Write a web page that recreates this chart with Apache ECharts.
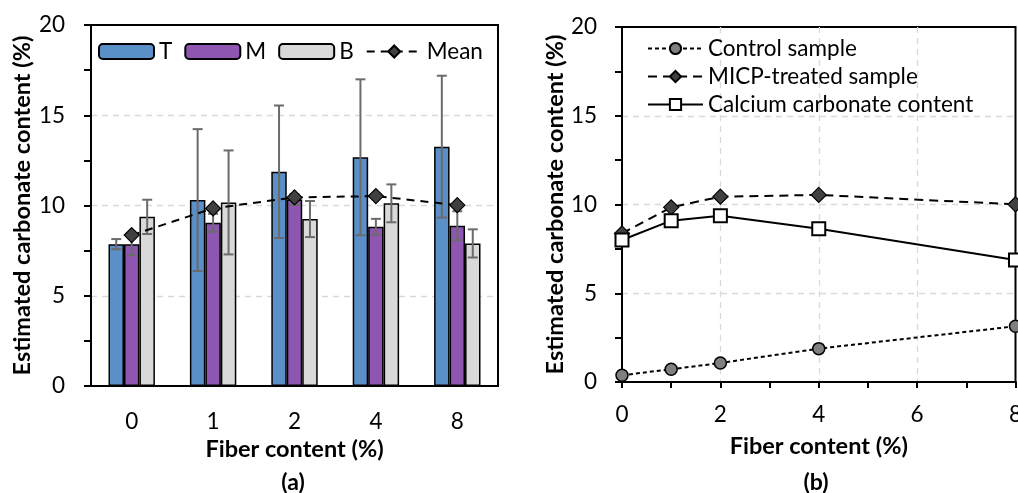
<!DOCTYPE html>
<html>
<head>
<meta charset="utf-8">
<script src="https://cdn.jsdelivr.net/npm/echarts@6/dist/echarts.min.js"></script>
<style>
  html, body { margin: 0; padding: 0; background: #fff; }
  #main { width: 1018px; height: 493px; }
</style>
</head>
<body>
<div id="main"></div>
<script>
// panel (a): carbonate content of top / middle / bottom layers
const fiberCats = ["0", "1", "2", "4", "8"];
const tVals = [7.86, 10.3, 11.87, 12.67, 13.26];
const tErr = [0.28, 3.93, 3.67, 4.32, 3.93];
const mVals = [7.86, 9.04, 10.33, 8.82, 8.88];
const mErr = [0.62, 0.5, 0.3, 0.44, 0.8];
const bVals = [9.37, 10.17, 9.25, 10.12, 7.9];
const bErr = [0.95, 2.88, 1.0, 1.05, 0.78];
const meanVals = [8.36, 9.84, 10.45, 10.52, 10.02];

// panel (b)
const fiberX = [0, 1, 2, 4, 8];
const controlVals = [0.38, 0.72, 1.07, 1.88, 3.14];
const micpVals = [8.37, 9.84, 10.44, 10.54, 10.01];
const caco3Vals = [8.0, 9.09, 9.37, 8.63, 6.87];

const FONT = "Lato";
const BAR_W = 0.19; // share of category band per bar

function pairs(xs, ys) {
  return xs.map((x, i) => [x, ys[i]]);
}

// error bars drawn with custom series, shifted like the bars
function errSeries(vals, errs, slot) {
  return {
    type: "custom",
    xAxisIndex: 0,
    yAxisIndex: 0,
    z: 4,
    silent: true,
    data: vals.map((v, i) => [i, v, errs[i]]),
    encode: { x: 0, y: 1 },
    renderItem: function (params, api) {
      const i = api.value(0);
      const v = api.value(1);
      const e = api.value(2);
      const band = api.size([1, 0])[0];
      const off = slot * band * BAR_W;
      const hi = api.coord([i, v + e]);
      const lo = api.coord([i, v - e]);
      const x = hi[0] + off;
      const cap = 5;
      const st = { stroke: "#6b6b6b", lineWidth: 2 };
      return {
        type: "group",
        children: [
          { type: "line", shape: { x1: x, y1: hi[1], x2: x, y2: lo[1] }, style: st },
          { type: "line", shape: { x1: x - cap, y1: hi[1], x2: x + cap, y2: hi[1] }, style: st },
          { type: "line", shape: { x1: x - cap, y1: lo[1], x2: x + cap, y2: lo[1] }, style: st },
        ],
      };
    },
  };
}

const chart = echarts.init(document.getElementById("main"));

const axisText = { fontFamily: FONT, fontSize: 22.5, color: "#000" };
const nameText = {
  fontFamily: FONT, fontSize: 23.5, fontWeight: "bold", color: "#000",
  width: 500, overflow: "none",
};
const dashGrid = {
  show: true, showMinLine: false, showMaxLine: false,
  lineStyle: { color: "#d9d9d9", type: [6, 5], width: 1.3 },
};
const blackLine = { show: true, lineStyle: { color: "#000", width: 2 } };
const tickStyle = { color: "#000", width: 2 };

// axis that only carries the extra (half-step) outward ticks
function tickAxis(kind, grid, max, step, len) {
  return {
    type: "value",
    gridIndex: grid,
    min: 0,
    max: max,
    interval: step,
    axisLine: blackLine,
    axisTick: { show: true, length: len, lineStyle: tickStyle },
    axisLabel: { show: false },
    splitLine: { show: false },
    position: kind === "x" ? "bottom" : "left",
  };
}

chart.setOption({
  animation: false,
  graphic: [
    { type: "text", x: 293, y: 483,
      style: { text: "(a)", align: "center", verticalAlign: "middle",
        font: "bold 23px Lato", fill: "#000" } },
    { type: "text", x: 816, y: 483,
      style: { text: "(b)", align: "center", verticalAlign: "middle",
        font: "bold 23px Lato", fill: "#000" } },
  ],
  legend: [
    {
      data: ["T", "M", "B", "Mean"],
      left: 93,
      top: 35,
      itemWidth: 55,
      itemHeight: 15,
      itemGap: 12,
      textStyle: { fontFamily: FONT, fontSize: 22.5, color: "#000" },
    },
    {
      data: ["Control sample", "MICP-treated sample", "Calcium carbonate content"],
      orient: "vertical",
      left: 642,
      top: 32,
      itemWidth: 55,
      itemHeight: 14,
      itemGap: 5,
      textStyle: { fontFamily: FONT, fontSize: 22.5, color: "#000" },
    },
  ],
  grid: [
    { left: 91, right: 520, top: 25, bottom: 107, show: true, borderColor: "#000", borderWidth: 2,
      outerBoundsMode: "none" },
    { left: 622, right: 2.5, top: 27, bottom: 111, show: true, borderColor: "#000", borderWidth: 2,
      outerBoundsMode: "none" },
  ],
  xAxis: [
    {
      type: "category",
      gridIndex: 0,
      data: fiberCats,
      name: "Fiber content (%)",
      nameLocation: "middle",
      nameGap: 47,
      nameTextStyle: nameText,
      axisLine: blackLine,
      axisTick: { show: false },
      axisLabel: Object.assign({ margin: 24 }, axisText),
      splitLine: { show: false },
    },
    {
      type: "value",
      gridIndex: 1,
      min: 0,
      max: 8,
      interval: 2,
      name: "Fiber content (%)",
      nameLocation: "middle",
      nameGap: 52,
      nameTextStyle: nameText,
      axisLine: blackLine,
      axisTick: { show: true, length: 6, lineStyle: tickStyle },
      axisLabel: Object.assign({ margin: 21 }, axisText),
      splitLine: dashGrid,
    },
    tickAxis("x", 1, 8, 1, 6),
  ],
  yAxis: [
    {
      type: "value",
      gridIndex: 0,
      min: 0,
      max: 20,
      interval: 5,
      name: "Estimated carbonate content (%)",
      nameLocation: "middle",
      nameGap: 57,
      nameTextStyle: nameText,
      axisLine: blackLine,
      axisTick: { show: true, length: 7, lineStyle: tickStyle },
      axisLabel: Object.assign({ margin: 26 }, axisText),
      splitLine: dashGrid,
    },
    {
      type: "value",
      gridIndex: 1,
      min: 0,
      max: 20,
      interval: 5,
      name: "Estimated carbonate content (%)",
      nameLocation: "middle",
      nameGap: 53,
      nameTextStyle: nameText,
      axisLine: blackLine,
      axisTick: { show: true, length: 7, lineStyle: tickStyle },
      axisLabel: Object.assign({ margin: 25 }, axisText),
      splitLine: dashGrid,
    },
    tickAxis("y", 0, 20, 2.5, 7),
    tickAxis("y", 1, 20, 2.5, 7),
  ],
  series: [
    {
      name: "T", type: "bar", xAxisIndex: 0, yAxisIndex: 0, data: tVals,
      barWidth: "19%", barGap: "0%",
      itemStyle: { color: "#5a8fc8", borderColor: "#000", borderWidth: 1.5 },
    },
    {
      name: "M", type: "bar", xAxisIndex: 0, yAxisIndex: 0, data: mVals,
      barWidth: "19%", barGap: "0%",
      itemStyle: { color: "#8e56b0", borderColor: "#000", borderWidth: 1.5 },
    },
    {
      name: "B", type: "bar", xAxisIndex: 0, yAxisIndex: 0, data: bVals,
      barWidth: "19%", barGap: "0%",
      itemStyle: { color: "#d9d9d9", borderColor: "#000", borderWidth: 1.5 },
    },
    errSeries(tVals, tErr, -1),
    errSeries(mVals, mErr, 0),
    errSeries(bVals, bErr, 1),
    {
      name: "Mean", type: "line", xAxisIndex: 0, yAxisIndex: 0, data: meanVals,
      z: 5,
      symbol: "diamond", symbolSize: 15,
      lineStyle: { color: "#000", width: 2, type: [8, 6] },
      itemStyle: { color: "#404040", borderColor: "#000", borderWidth: 1.2 },
    },
    {
      name: "Control sample", type: "line", xAxisIndex: 1, yAxisIndex: 1,
      data: pairs(fiberX, controlVals),
      symbol: "circle", symbolSize: 12,
      lineStyle: { color: "#000", width: 2, type: [4, 3] },
      itemStyle: { color: "#7f7f7f", borderColor: "#000", borderWidth: 1.5 },
    },
    {
      name: "MICP-treated sample", type: "line", xAxisIndex: 1, yAxisIndex: 1,
      data: pairs(fiberX, micpVals),
      symbol: "diamond", symbolSize: 15,
      lineStyle: { color: "#000", width: 2, type: [9, 6] },
      itemStyle: { color: "#404040", borderColor: "#000", borderWidth: 1.2 },
    },
    {
      name: "Calcium carbonate content", type: "line", xAxisIndex: 1, yAxisIndex: 1,
      data: pairs(fiberX, caco3Vals),
      symbol: "rect", symbolSize: 13,
      lineStyle: { color: "#000", width: 2 },
      itemStyle: { color: "#fff", borderColor: "#000", borderWidth: 2 },
    },
  ],
});
</script>
</body>
</html>
